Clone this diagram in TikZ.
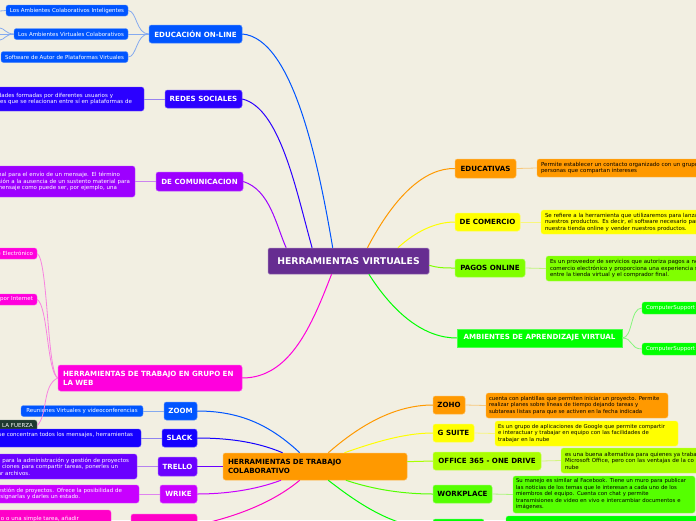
\documentclass[tikz,border=0pt]{standalone}
\usepackage{fontspec}
\setmainfont{DejaVu Sans}
\definecolor{paper}{HTML}{F2EFE2}
\definecolor{rootc}{HTML}{662D91}
\definecolor{edu}{HTML}{0055FF}
\definecolor{red}{HTML}{2B00FF}
\definecolor{com}{HTML}{9D00FF}
\definecolor{web}{HTML}{FF00DD}
\definecolor{dark}{HTML}{1F3A30}
\definecolor{slk}{HTML}{1500FF}
\definecolor{tre}{HTML}{6A00FF}
\definecolor{wri}{HTML}{C800FF}
\definecolor{pnk}{HTML}{FF00C8}
\definecolor{org}{HTML}{FF9900}
\definecolor{yel}{HTML}{FFFF00}
\definecolor{pag}{HTML}{80FF00}
\definecolor{off}{HTML}{AAFF00}
\definecolor{wkp}{HTML}{55FF00}
\definecolor{grn}{HTML}{00FF00}
\newcommand{\padr}[1]{\hbox to #1pt{}}
\tikzset{
  rootbox/.style={rounded corners=1.5pt, draw=#1!65!white, fill=#1, line width=0.5pt, inner sep=0pt, text=white, font=\fontsize{9.3}{11}\selectfont\bfseries},
  topic/.style={rounded corners=2.5pt, draw=#1!70!white, fill=#1, line width=0.5pt, inner sep=0pt, font=\fontsize{7.1}{9}\selectfont\bfseries},
  leaf/.style={rounded corners=2.5pt, draw=#1!70!white, fill=#1, line width=0.4pt, inner ysep=0pt, inner xsep=4pt, align=left, font=\fontsize{5.5}{6.5}\selectfont},
  tightleaf/.style={inner xsep=3pt, font=\fontsize{5.35}{6.5}\selectfont},
  link/.style={draw=#1, line width=1pt},
  sublink/.style={draw=#1!45!paper, line width=0.8pt}
}
\begin{document}
\begin{tikzpicture}[x=1pt,y=-1pt]
    \useasboundingbox (0,0) rectangle (696,520);
    \clip (0,0) rectangle (696,520);
    \fill[paper] (0,0) rectangle (696,520);

    % centre
    \node at (348.5,261) (root) [rootbox=rootc, minimum width=161pt, minimum height=26pt] {HERRAMIENTAS VIRTUALES};

    % left side
    \node at (195.5,34) (educ) [topic=edu, text=white, minimum width=93pt, minimum height=18pt] {EDUCACIÓN ON-LINE};
    \node at (67,10.5) (eduA) [leaf=edu, text=white, minimum width=122pt, minimum height=11pt, inner xsep=0pt] {Los Ambientes Colaborativos Inteligentes};
    \node at (71,34) (eduB) [leaf=edu, text=white, minimum width=114pt, minimum height=11pt, inner xsep=0pt] {Los Ambientes Virtuales Colaborativos};
    \node at (64.5,57) (eduC) [leaf=edu, text=white, minimum width=127pt, minimum height=11pt, inner xsep=0pt] {Software de Autor de Plataformas Virtuales};
    \coordinate (eduAoff) at (0,11);
    \coordinate (eduBoff) at (0,34);
    \coordinate (eduBup) at (0,28);
    \coordinate (eduBdn) at (0,40);

    \node at (203.5,99) (redes) [topic=red, text=white, minimum width=77pt, minimum height=18pt] {REDES SOCIALES};
    \node at (44,99) (redesL) [leaf=red, text=white, text width=200pt, minimum height=24pt, align=right, inner xsep=0pt] {dades formadas por diferentes usuarios y\padr{31}\\es que se relacionan entre sí en plataformas de\padr{12}};

    \node at (199.5,181.5) (comu) [topic=com, text=white, minimum width=87pt, minimum height=19pt] {DE COMUNICACION};
    \node at (35,181.5) (comuL) [leaf=com, text=white, text width=200pt, minimum height=31pt, align=right, inner xsep=0pt] {nal para el envío de un mensaje. El término\padr{15}\\sión a la ausencia de un sustento material para\padr{5}\\mensaje como puede ser, por ejemplo, una\padr{18}};

    \node at (150,378) (webt) [topic=web, text=white, minimum width=184pt, minimum height=26pt, align=left, text width=174pt] {HERRAMIENTAS DE TRABAJO EN GRUPO EN\\LA WEB};
    \node at (-13,253.5) (webA) [leaf=web, text=white, text width=92pt, minimum height=11pt, align=right] {e Electrónico};
    \node at (-13,299.5) (webB) [leaf=web, text=white, text width=92pt, minimum height=11pt, align=right] {por Internet};
    \node at (-13,425.5) (webC) [leaf=dark, text=white, text width=92pt, minimum height=11pt, align=right] {LA FUERZA};

    % lower left, work tools
    \node at (180.5,411) (zoomt) [topic=edu, text=white, minimum width=33pt, minimum height=18pt] {ZOOM};
    \node at (82,411) (zoomL) [leaf=edu, text=white, minimum width=122pt, minimum height=11pt, inner xsep=0pt] {Reuniones Virtuales y videoconferencias};
    \node at (179.5,438) (slack) [topic=slk, text=white, minimum width=35pt, minimum height=18pt] {SLACK};
    \node at (41,438) (slackL) [leaf=slk, text=white, text width=200pt, minimum height=18pt, inner xsep=0pt, align=right] {se concentran todos los mensajes, herramientas\padr{8}\\\ };
    \node at (177.5,466.5) (trello) [topic=tre, text=white, minimum width=39pt, minimum height=19pt] {TRELLO};
    \node at (37,466.5) (trelloL) [leaf=tre, text=white, text width=200pt, minimum height=25pt, inner xsep=0pt, align=right] {a para la administración y gestión de proyectos\padr{8}\\ciones para compartir tareas, ponerles un\padr{19}\\ar archivos.\padr{107}};
    \node at (178.5,494) (wrike) [topic=wri, text=white, minimum width=37pt, minimum height=18pt] {WRIKE};
    \node at (39,494) (wrikeL) [leaf=wri, text=white, text width=200pt, minimum height=18pt, inner xsep=0pt, align=right] {estión de proyectos. Ofrece la posibilidad de\padr{17}\\signarlas y darles un estado.\padr{59}};
    \node at (164,525) (pinkt) [topic=pnk, minimum width=66pt, minimum height=22pt] {};
    \node at (11,525) (pinkL) [leaf=pnk, text=white, text width=200pt, minimum height=30pt, inner xsep=0pt, align=right] {o o una simple tarea, añadir\padr{32}\\\ \\\ };

    \node at (315,466.5) (colab) [topic=org, minimum width=184pt, minimum height=27pt, align=left, text width=174pt] {HERRAMIENTAS DE TRABAJO\\COLABORATIVO};

    % right side
    \node at (485.5,168.5) (educat) [topic=org, minimum width=61pt, minimum height=19pt] {EDUCATIVAS};
    \node at (687,168) (educatL) [leaf=org, minimum width=300pt, minimum height=18pt, text width=292pt] {Permite establecer un contacto organizado con un grupo\\personas que compartan intereses};
    \node at (487.5,222) (comer) [topic=yel, minimum width=65pt, minimum height=18pt] {DE COMERCIO};
    \node at (691,222) (comerL) [leaf=yel, minimum width=300pt, minimum height=24pt, text width=292pt] {Se refiere a la herramienta que utilizaremos para lanza\\nuestros productos. Es decir, el software necesario par\\nuestra tienda online y vender nuestros productos.};
    \node at (490,268) (pagos) [topic=pag, minimum width=70pt, minimum height=18pt] {PAGOS ONLINE};
    \node at (696,268.5) (pagosL) [leaf=pag, minimum width=300pt, minimum height=25pt, text width=292pt] {Es un proveedor de servicios que autoriza pagos a ne\\comercio electrónico y proporciona una experiencia s\\entre la tienda virtual y el comprador final.};
    \node at (539.5,338) (ambi) [topic=grn, rounded corners=0pt, text=white, minimum width=165pt, minimum height=18pt] {AMBIENTES DE APRENDIZAJE VIRTUAL};
    \node at (792,308) (ambiA) [leaf=grn, text=white, minimum width=300pt, minimum height=12pt, text width=292pt] {ComputerSupport};
    \node at (792,349) (ambiB) [leaf=grn, text=white, minimum width=300pt, minimum height=12pt, text width=292pt] {ComputerSupport};

    % lower right, work tools
    \node at (449,405) (zoho) [topic=org, minimum width=32pt, minimum height=18pt] {ZOHO};
    \node at (577,405.5) (zohoL) [leaf=org, tightleaf, minimum height=25pt, text width=176pt] {cuenta con plantillas que permiten iniciar un proyecto. Permite\\realizar planes sobre líneas de tiempo dejando tareas y\\subtareas listas para que se activen en la fecha indicada};
    \node at (453.5,433) (gsuite) [topic=yel, minimum width=41pt, minimum height=18pt] {G SUITE};
    \node at (586.5,433.5) (gsuiteL) [leaf=yel, tightleaf, minimum height=25pt, text width=177pt] {Es un grupo de aplicaciones de Google que permite compartir\\e interactuar y trabajar en equipo con las facilidades de\\trabajar en la nube};
    \node at (487,461) (office) [topic=off, minimum width=108pt, minimum height=18pt] {OFFICE 365 - ONE DRIVE};
    \node at (711,460.5) (officeL) [leaf=off, minimum width=300pt, minimum height=25pt, text width=292pt] {es una buena alternativa para quienes ya traba\\Microsoft Office, pero con las ventajas de la co\\nube};
    \node at (462.5,494) (workp) [topic=wkp, minimum width=59pt, minimum height=18pt] {WORKPLACE};
    \node at (604,494.5) (workpL) [leaf=wkp, tightleaf, minimum height=37pt, text width=176pt] {Su manejo es similar al Facebook. Tiene un muro para publicar\\las noticias de los temas que le interesan a cada uno de los\\miembros del equipo. Cuenta con chat y permite\\transmisiones de video en vivo e intercambiar documentos e\\imágenes.};
    \node at (458.5,528) (lastt) [topic=grn, minimum width=51pt, minimum height=18pt] {};
    \node at (656,530) (lastL) [leaf=grn, minimum width=300pt, minimum height=28pt] {};

    % branches from the centre
    \draw[link=edu] (root.140) .. controls (318,160) and (292,38) .. (educ.east);
    \draw[link=red] (root.160.9) .. controls (296,190) and (280,108) .. (redes.east);
    \draw[link=com] (root.168) .. controls (276,225) and (270,190) .. (comu.east);
    \draw[link=web] (root.218.2) .. controls (312,325) and (290,378) .. (webt.east);
    \draw[link=org] (root.35) .. controls (395,195) and (425,168) .. (educat.west);
    \draw[link=yel] (root.15) .. controls (415,232) and (435,222) .. (comer.west);
    \draw[link=pag] (root.-3.5) .. controls (438,268) and (445,268) .. (pagos.west);
    \draw[link=grn] (root.-33.7) .. controls (395,315) and (425,338) .. (ambi.west);

    % branches from the work tools box
    \draw[link=edu] (colab.138) .. controls (270,425) and (240,411) .. (zoomt.east);
    \draw[link=slk] (colab.157.1) .. controls (255,441) and (225,438) .. (slack.east);
    \draw[link=tre] (colab.west) -- (trello.east);
    \draw[link=wri] (colab.202.9) .. controls (255,490) and (225,494) .. (wrike.east);
    \draw[link=pnk] (colab.222) .. controls (270,505) and (230,518) .. (pinkt.east);
    \draw[link=org] (colab.46) .. controls (360,425) and (395,405) .. (zoho.west);
    \draw[link=yel] (colab.25) .. controls (375,442) and (405,433) .. (gsuite.west);
    \draw[link=off] (colab.3.4) -- (office.west);
    \draw[link=wkp] (colab.-24.2) .. controls (375,490) and (405,494) .. (workp.west);
    \draw[link=grn] (colab.-46) .. controls (360,505) and (395,528) .. (lastt.west);

    % leaves
    \draw[sublink=edu] (educ.west) .. controls (136,34) and (137,11) .. (eduA.east);
    \draw[sublink=edu] (educ.west) -- (eduB.east);
    \draw[sublink=edu] (educ.west) .. controls (136,34) and (137,57) .. (eduC.east);
    \draw[sublink=edu] (eduA.west) -- (eduAoff);
    \draw[sublink=edu] (eduB.west) -- (eduBoff);
    \draw[sublink=edu] (eduB.west) .. controls (6,34) and (4,28) .. (eduBup);
    \draw[sublink=edu] (eduB.west) .. controls (6,34) and (4,40) .. (eduBdn);
    \draw[sublink=red] (redes.west) -- (redes.west -| redesL.east);
    \draw[sublink=com] (comu.west) -- (comu.west -| comuL.east);
    \draw[sublink=web] (webt.west) .. controls (47,372) and (48,260) .. (webA.east);
    \draw[sublink=web] (webt.west) .. controls (47,372) and (48,306) .. (webB.east);
    \draw[sublink=web] (webt.west) .. controls (42,385) and (48,415) .. (webC.east);
    \draw[sublink=edu] (zoomt.west) -- (zoomL.east);
    \draw[sublink=slk] (slack.west) -- (slackL.east);
    \draw[sublink=tre] (trello.west) -- (trelloL.east);
    \draw[sublink=wri] (wrike.west) -- (wrikeL.east);
    \draw[sublink=org] (educat.east) -- (educatL.west);
    \draw[sublink=yel] (comer.east) -- (comerL.west);
    \draw[sublink=pag] (pagos.east) -- (pagosL.west);
    \draw[sublink=grn] (ambi.east) .. controls (633,338) and (630,308) .. (ambiA.west);
    \draw[sublink=grn] (ambi.east) .. controls (633,338) and (630,349) .. (ambiB.west);
    \draw[sublink=org] (zoho.east) -- (zohoL.west);
    \draw[sublink=yel] (gsuite.east) -- (gsuiteL.west);
    \draw[sublink=off] (office.east) -- (officeL.west);
    \draw[sublink=wkp] (workp.east) -- (workpL.west);
\end{tikzpicture}
\end{document}
